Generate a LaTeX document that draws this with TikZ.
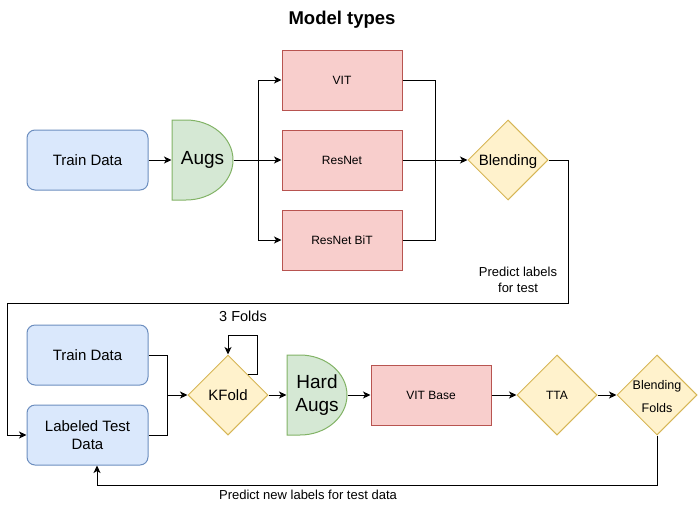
\documentclass[tikz,border=0pt]{standalone}
\usepackage{fontspec}
\setmainfont{Liberation Sans}
\usetikzlibrary{shapes.geometric,arrows.meta}
\definecolor{bfill}{HTML}{DAE8FC}\definecolor{bdraw}{HTML}{6C8EBF}
\definecolor{gfill}{HTML}{D5E8D4}\definecolor{gdraw}{HTML}{82B366}
\definecolor{rfill}{HTML}{F8CECC}\definecolor{rdraw}{HTML}{B85450}
\definecolor{yfill}{HTML}{FFF2CC}\definecolor{ydraw}{HTML}{D6B656}
\tikzset{
  databox/.style={draw=bdraw,fill=bfill,rounded corners=8pt,minimum width=121pt,minimum height=60pt,inner sep=0pt,align=center,font=\fontsize{15}{17.5}\selectfont},
  modelbox/.style={draw=rdraw,fill=rfill,minimum width=120pt,minimum height=60pt,inner sep=0pt,font=\fontsize{12}{14}\selectfont},
  decide/.style={diamond,aspect=1,draw=ydraw,fill=yfill,minimum width=80pt,minimum height=80pt,inner sep=0pt},
  augbox/.style={minimum width=61pt,minimum height=80pt,inner sep=0pt,align=center,font=\fontsize{19}{23}\selectfont},
  augshape/.style={draw=gdraw,fill=gfill,line width=1pt},
  arr/.style={-{Stealth[length=7.5pt,width=7pt,inset=2pt]},line width=1pt},
  conn/.style={line width=1pt},
  lbl/.style={align=center,inner sep=0pt}
}
\begin{document}
\begin{tikzpicture}[x=1pt,y=-1pt,line width=1pt]
\useasboundingbox (0,0) rectangle (698,512);
\node[font=\fontsize{18.5}{22}\selectfont\bfseries] (title) at (342,20) {Model types};
% top row
\node[databox] (train) at (87.5,160) {Train Data};
\draw[augshape] (172,120) -- (186,120) .. controls (212,120) and (233,138) .. (233,160)
   .. controls (233,182) and (212,200) .. (186,200) -- (172,200) -- cycle;
\node[augbox] (augs) at (202.5,160) {Augs};
\node[modelbox] (vit) at (342,80) {VIT};
\node[modelbox] (resnet) at (342,160) {ResNet};
\node[modelbox] (bit) at (342,240) {ResNet BiT};
\node[decide,label={[font=\fontsize{15}{18}\selectfont,yshift=-1.5pt]center:Blending}] (blend) at (508,160) {};
\coordinate (split) at (258,160);
\coordinate (merge) at (435,160);
\draw[arr] (train.east) -- (augs.west);
\draw[arr] (augs.east) -- (resnet.west);
\draw[arr] (split) |- (vit.west);
\draw[arr] (split) |- (bit.west);
\draw[conn] (vit.east) -| (merge);
\draw[conn] (bit.east) -| (merge);
\draw[arr] (resnet.east) -- (blend.west);
% feedback
\node[databox] (train2) at (87.5,355) {Train Data};
\node[databox] (ltd) at (87.5,435) {Labeled Test\\Data};
\coordinate (fb1) at (568,303);
\coordinate (fb2) at (7,303);
\draw[arr] (blend.east) -| (fb1) -- (fb2) |- (ltd.west);
\node[lbl,font=\fontsize{13}{16}\selectfont] (plt) at (518,280) {Predict labels\\for test};
% bottom row
\node[decide,label={[font=\fontsize{15}{18}\selectfont]center:KFold}] (kfold) at (228,395) {};
\coordinate (join) at (167,395);
\draw[conn] (train2.east) -| (join);
\draw[conn] (ltd.east) -| (join);
\draw[arr] (join) -- (kfold.west);
\coordinate (loop) at (257,335);
\draw[arr] (kfold.north east) -| (loop) -| (kfold.north);
\node[font=\fontsize{14.5}{17}\selectfont] (folds) at (243,316) {3 Folds};
\draw[augshape] (287,355) -- (300,355) .. controls (326,355) and (347,373) .. (347,395)
   .. controls (347,417) and (326,435) .. (300,435) -- (287,435) -- cycle;
\node[augbox,minimum width=60pt] (hard) at (317,395) {Hard\\Augs};
\node[modelbox] (vitb) at (431,395) {VIT Base};
\node[decide,label={[font=\fontsize{12}{14}\selectfont]center:TTA}] (tta) at (557,395) {};
\node[decide,label={[font=\fontsize{12.5}{23}\selectfont,align=center,yshift=-2pt]center:Blending\\Folds}] (bf) at (657,395) {};
\draw[arr] (kfold.east) -- (hard.west);
\draw[arr] (hard.east) -- (vitb.west);
\draw[arr] (vitb.east) -- (tta.west);
\draw[arr] (tta.east) -- (bf.west);
\coordinate (ret) at (97,485);
\draw[arr] (bf.south) |- (ret) -- (ret |- ltd.south);
\node[font=\fontsize{13}{16}\selectfont] (pnl) at (308,495) {Predict new labels for test data};
\end{tikzpicture}
\end{document}
